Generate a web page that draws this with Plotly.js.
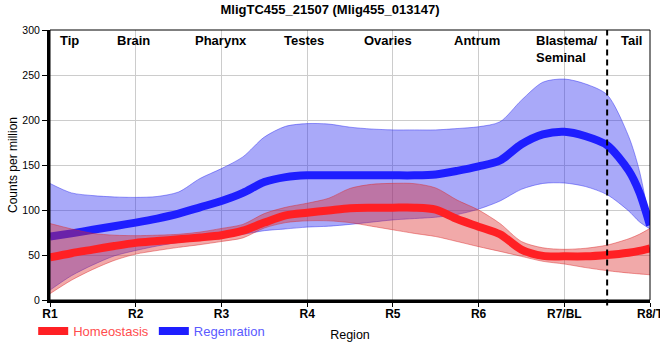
<!DOCTYPE html>
<html>
<head>
<meta charset="utf-8">
<script src="https://cdn.plot.ly/plotly-3.0.1.min.js"></script>
<style>html,body{margin:0;padding:0;background:#fff;}#chart{width:660px;height:360px;}</style>
</head>
<body>
<div id="chart"></div>
<script>
// Positions along the body (region index)
const xs = [1,1.25,1.5,1.75,2,2.25,2.5,2.75,3,3.25,3.5,3.75,4,4.25,4.5,4.75,5,5.25,5.5,5.75,6,6.25,6.5,6.75,7,7.25,7.5,7.75,7.875,8];

// Regeneration (blue)
const regenMean  = [70.4,74,78,82,86,90.5,96,103,110,119,131,136.5,138.5,138.5,138.5,138.5,138.5,138.5,139.5,143.5,148.5,155,173,184,187,182,172,144,120,83];
const regenUpper = [129.5,119,116,114.5,114,115,120,135,146,159,181,193,196,195.5,192,190,189,189,189,190.5,192.5,198,222,242,245.5,240,228,182,144,85];
const regenLower = [11,27,39,49,55,60,64,67,70,73,77,79,81,82,84,86.5,89,90.5,92,95,101,110,123,129.5,130,126,117,99,87,79];

// Homeostasis (red)
const homeoMean  = [47.4,52,56,60,63.5,65.5,67.5,69.5,72,77,86,94,97,99.5,102,102.5,102.6,102.6,100.5,90,81.5,73,56,49,48.5,48.5,50,52.5,54.5,57.4];
const homeoUpper = [85,79,74,72,71.5,72,73,75.5,79.5,84,96,103,107.5,113,124,128.5,129.6,129.3,124.5,111,100,85,65,58,56.3,57.5,61,68,73,79.6];
const homeoLower = [7,22,34,44,51,55,58.5,61.5,65,69,80,86,88,88,86,82,78,74,70.5,65,59.3,54,48.5,43,40,36,32.6,30,29,28];

const tickVals = [1,2,3,4,5,6,7,8];
const tickText = ['R1','R2','R3','R4','R5','R6','R7/BL','R8/T'];

const regionNames = ['Tip','Brain','Pharynx','Testes','Ovaries','Antrum','Blastema/<br>Seminal','Tail'];
const regionX     = [1.23,1.97,3.0,3.96,4.94,5.98,6.65,7.78];
const tailBoundary = 7.5;

const seriesNames = ['Homeostasis','Regenration'];

const blueLine = '#1e1eff', blueFill = 'rgba(40,40,240,0.4)';
const redLine = '#ff2024', redFill = 'rgba(220,40,40,0.4)';

const traces = [
  {x: xs, y: regenLower, mode:'lines', line:{color:'rgba(40,40,240,0.45)', width:1, shape:'spline', smoothing:0.8}, showlegend:false, hoverinfo:'skip'},
  {x: xs, y: regenUpper, mode:'lines', fill:'tonexty', fillcolor: blueFill, line:{color:'rgba(40,40,240,0.45)', width:1, shape:'spline', smoothing:0.8}, showlegend:false, hoverinfo:'skip'},
  {x: xs, y: regenMean, mode:'lines', name:'<span style="color:#5a5aff">'+seriesNames[1]+'</span>', line:{color: blueLine, width:8, shape:'spline', smoothing:0.8}, legendrank:2},
  {x: xs, y: homeoLower, mode:'lines', line:{color:'rgba(220,40,40,0.45)', width:1, shape:'spline', smoothing:0.8}, showlegend:false, hoverinfo:'skip'},
  {x: xs, y: homeoUpper, mode:'lines', fill:'tonexty', fillcolor: redFill, line:{color:'rgba(220,40,40,0.45)', width:1, shape:'spline', smoothing:0.8}, showlegend:false, hoverinfo:'skip'},
  {x: xs, y: homeoMean, mode:'lines', name:'<span style="color:#ff4d4d">'+seriesNames[0]+'</span>', line:{color: redLine, width:8, shape:'spline', smoothing:0.8}, legendrank:1}
];

const annotations = regionNames.map((t,i)=>({
  x: regionX[i], xref:'x', y:1, yref:'paper', yanchor:'top', yshift:-1,
  xanchor: t.indexOf('<br>')>=0 ? 'left' : 'center', align:'left',
  text:'<b>'+t+'</b>', showarrow:false,
  font:{family:'Liberation Sans, Arial, sans-serif', size:13, color:'#000'}
}));

const layout = {
  width:660, height:360,
  margin:{l:50, r:10, t:30, b:60, autoexpand:false},
  paper_bgcolor:'#fff', plot_bgcolor:'#fff',
  font:{family:'Liberation Sans, Arial, sans-serif', color:'#000'},
  title:{text:'<b>MligTC455_21507 (Mlig455_013147)</b>', x:0.5, xanchor:'center', y:0.975, yanchor:'middle', font:{size:13, color:'#000'}},
  xaxis:{
    range:[1,8], tickvals:tickVals, ticktext:tickText,
    showgrid:true, gridcolor:'#cccccc', gridwidth:1, zeroline:false,
    showline:true, linecolor:'#000', linewidth:3,
    ticks:'outside', ticklen:4, tickwidth:1, tickcolor:'#000',
    ticklabeloverflow:'allow', ticklabelstandoff:-3,
    tickfont:{size:12, weight:'bold', color:'#000'},
    title:{text:'Region', font:{size:12.5, color:'#000'}, standoff:10}
  },
  yaxis:{
    range:[0,300], tickvals:[0,50,100,150,200,250,300],
    showgrid:true, gridcolor:'#cccccc', gridwidth:1, zeroline:false,
    showline:true, linecolor:'#000', linewidth:3,
    ticks:'outside', ticklen:5, tickwidth:1, tickcolor:'#000',
    tickfont:{size:10.5, color:'#000'},
    title:{text:'Counts per million', font:{size:12, color:'#000'}, standoff:3}
  },
  legend:{orientation:'h', x:-0.028, xanchor:'left', y:-0.115, yanchor:'middle',
    font:{size:13}, bgcolor:'rgba(0,0,0,0)', traceorder:'normal', itemclick:false},
  annotations: annotations,
  shapes:[
    {type:'line', xref:'x', yref:'paper', x0:tailBoundary, x1:tailBoundary, y0:-0.02, y1:1, line:{color:'#000', width:2, dash:'6px,4px'}},
    {type:'rect', xref:'paper', yref:'paper', x0:0, x1:1, y0:0, y1:1, line:{color:'#000', width:1}}
  ],
  showlegend:true
};

Plotly.newPlot('chart', traces, layout, {displayModeBar:false, staticPlot:true});
</script>
</body>
</html>
